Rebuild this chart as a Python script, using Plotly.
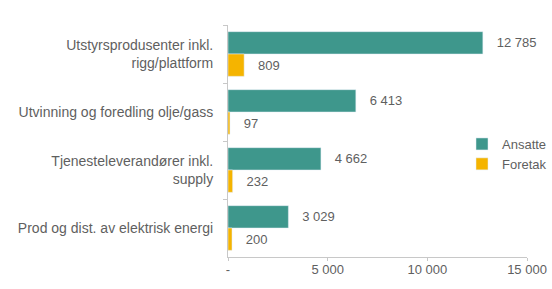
import plotly.graph_objects as go

categories = [
    "Utstyrsprodusenter inkl.<br>rigg/plattform",
    "Utvinning og foredling olje/gass",
    "Tjenesteleverandører inkl.<br>supply",
    "Prod og dist. av elektrisk energi",
]
ansatte = [12785, 6413, 4662, 3029]
foretak = [809, 97, 232, 200]
tick_vals = [0, 5000, 10000, 15000]
tick_text = ["-", "5 000", "10 000", "15 000"]

NBSP = "\u00a0"

def fmt(v):
    return NBSP * 3 + f"{v:,}".replace(",", " ")

font = "Liberation Sans"
grey = "#5f5f5f"
fs = 14

fig = go.Figure()
fig.add_trace(go.Bar(
    y=categories, x=ansatte, name="Ansatte", orientation="h",
    marker_color="#3e978c",
    text=[fmt(v) for v in ansatte], textposition="outside",
    textfont=dict(size=13, color=grey, family=font), cliponaxis=False,
))
fig.add_trace(go.Bar(
    y=categories, x=foretak, name="Foretak", orientation="h",
    marker_color="#f5b400",
    text=[fmt(v) for v in foretak], textposition="outside",
    textfont=dict(size=13, color=grey, family=font), cliponaxis=False,
))

fig.update_layout(
    width=552, height=289,
    margin=dict(l=228, r=25, t=25, b=32, autoexpand=False),
    paper_bgcolor="white", plot_bgcolor="white",
    barmode="group", bargap=0.23, bargroupgap=0.0,
    font=dict(family=font, size=fs, color=grey),
    showlegend=True,
    legend=dict(x=(462 - 228) / 299, y=(257 - 154) / 232, xanchor="left", yanchor="middle",
                font=dict(size=13, color=grey), bgcolor="rgba(0,0,0,0)",
                itemwidth=30, tracegroupgap=6),
    xaxis=dict(range=[0, 15000], tickvals=tick_vals, ticktext=tick_text,
               showgrid=False, zeroline=False, showline=True, linecolor="#c8c8c8",
               ticks="outside", ticklen=3, tickcolor="#c8c8c8", automargin=False,
               ticklabelstandoff=-3,
               tickfont=dict(size=13, color=grey)),
    yaxis=dict(autorange="reversed", showgrid=False, showline=True,
               linecolor="#c8c8c8", ticks="outside", ticklen=4, tickcolor="#c8c8c8",
               tickson="boundaries", tickfont=dict(size=fs, color=grey),
               automargin=False, ticklabelstandoff=11),
)

fig.write_html("out.html", config={"displayModeBar": False},
               post_script="document.body.style.margin='0';document.body.style.padding='0';")
